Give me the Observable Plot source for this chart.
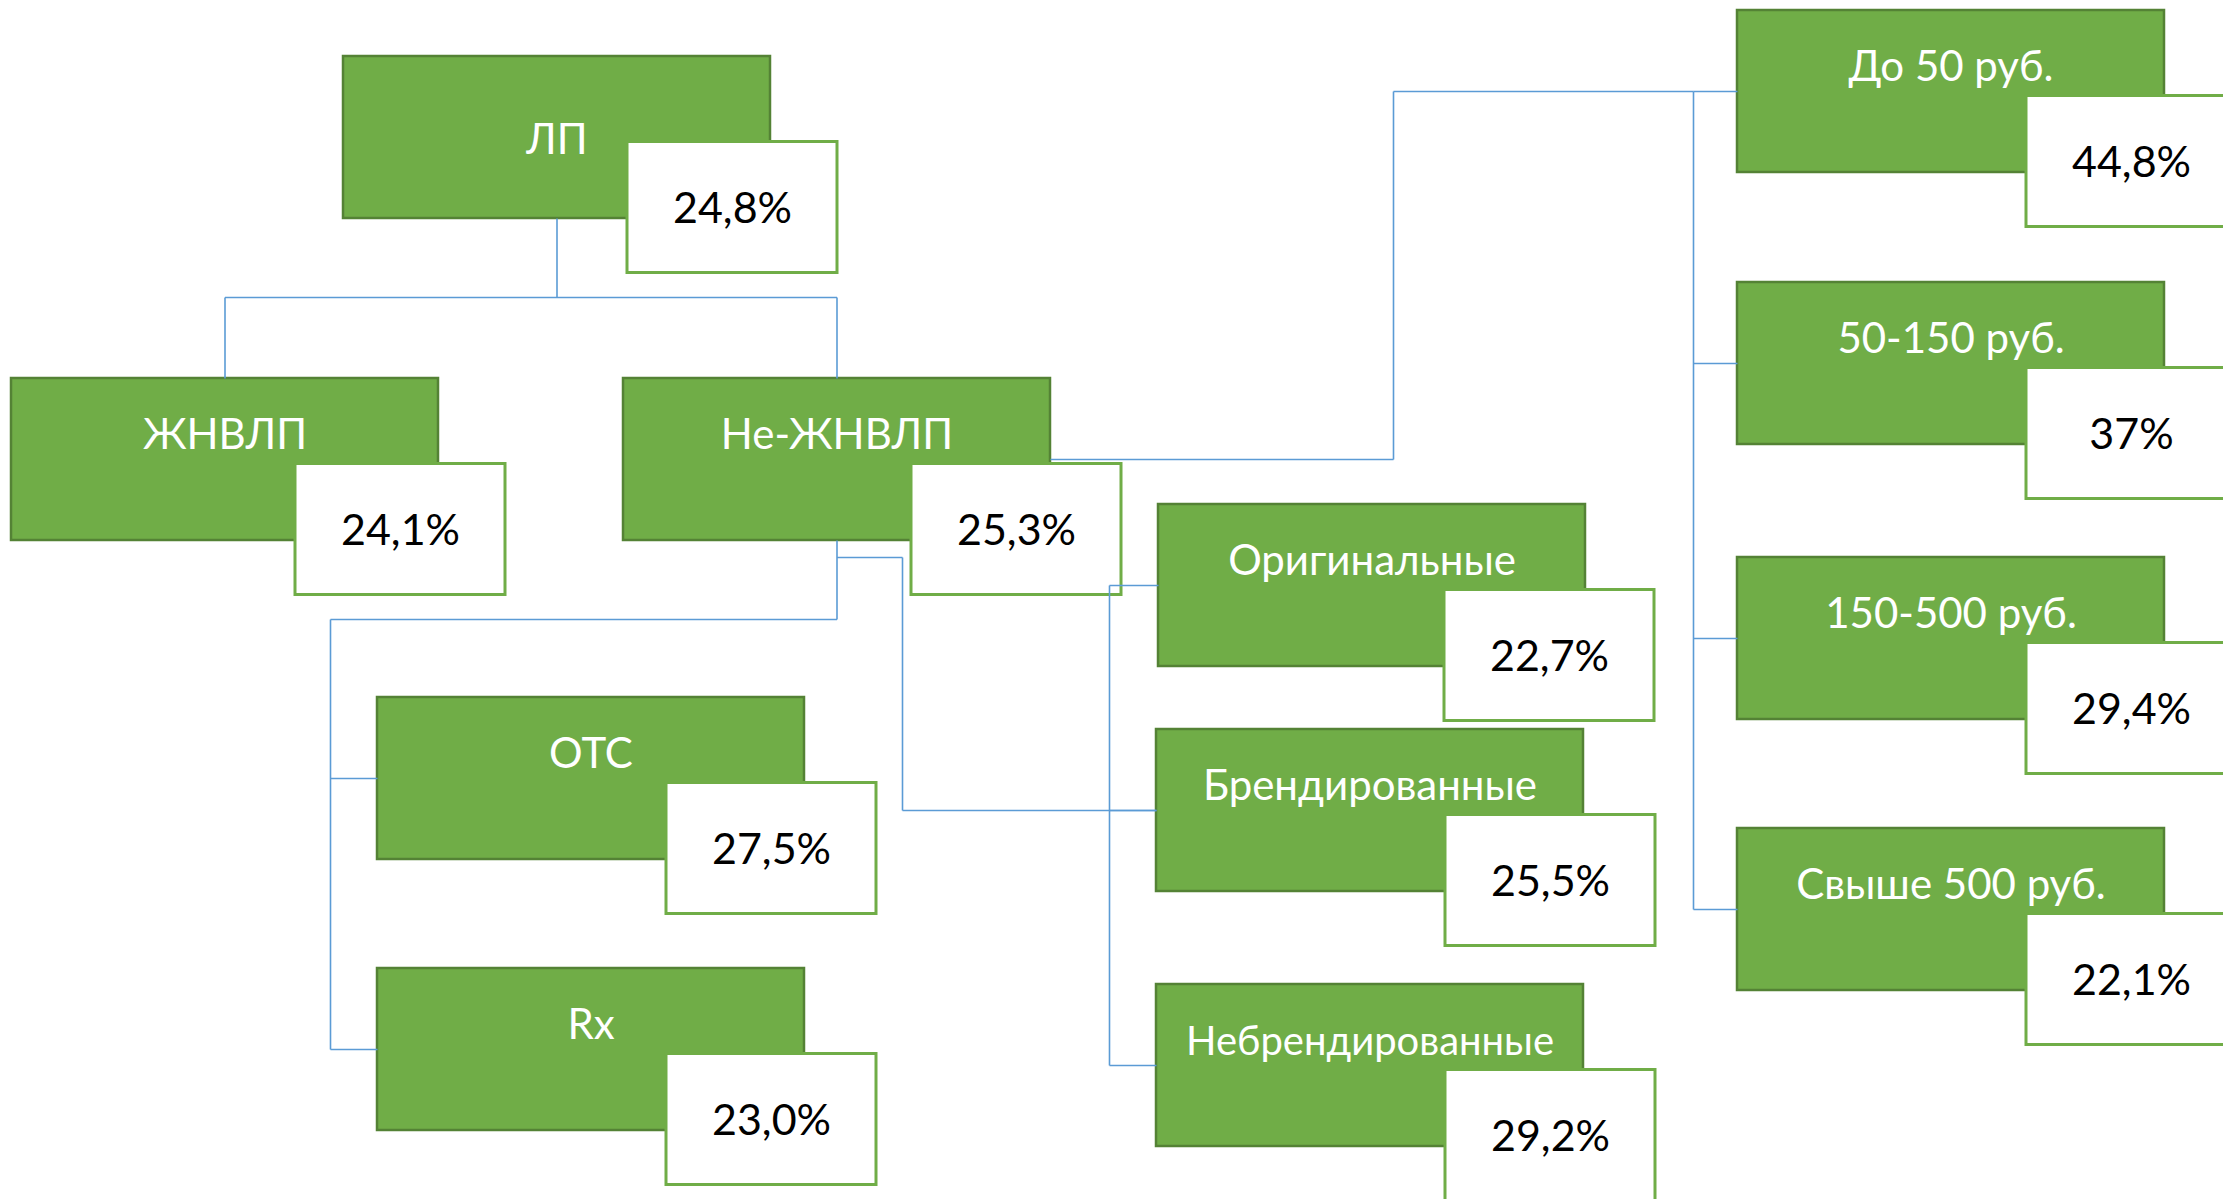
<!DOCTYPE html>
<html>
<head>
<meta charset="utf-8">
<script src="https://cdn.jsdelivr.net/npm/d3@7"></script>
<script src="https://cdn.jsdelivr.net/npm/@observablehq/plot@0.6"></script>
<style>
  html, body { margin: 0; padding: 0; background: #ffffff; overflow: hidden; }
  #chart svg { display: block; }
</style>
</head>
<body>
<div id="chart"></div>
<script>
// ---- data ----
const labels = ["ЛП", "ЖНВЛП", "Не-ЖНВЛП", "OTC", "Rx",
  "Оригинальные", "Брендированные", "Небрендированные",
  "До 50 руб.", "50-150 руб.", "150-500 руб.", "Свыше 500 руб."];
const values = ["24,8%", "24,1%", "25,3%", "27,5%", "23,0%",
  "22,7%", "25,5%", "29,2%",
  "44,8%", "37%", "29,4%", "22,1%"];
const parents = [null, "ЛП", "ЛП", "Не-ЖНВЛП", "Не-ЖНВЛП",
  "Не-ЖНВЛП", "Не-ЖНВЛП", "Не-ЖНВЛП",
  "Не-ЖНВЛП", "Не-ЖНВЛП", "Не-ЖНВЛП", "Не-ЖНВЛП"];

// ---- layout (pixel positions of the diagram) ----
const boxLeft = [343, 11, 623, 377, 377, 1158, 1156, 1156, 1737, 1737, 1737, 1737];
const boxTop  = [56, 378, 378, 697, 968, 504, 729, 984, 10, 282, 557, 828];
const valueDx = [284, 284, 288, 289, 289, 286, 289, 289, 289, 289, 289, 289];
const labelBaseline = [97, 70, 70, 70, 70, 70, 70, 70, 70, 70, 70, 70];
const labelSize = [42, 42, 42, 42, 42, 42, 42, 40, 42, 42, 42, 42];
const BOX_W = 427, BOX_H = 162;
const VAL_DY = 85.5, VAL_W = 210, VAL_H = 131;

const nodes = labels.map((label, i) => ({
  label, value: values[i], parent: parents[i],
  x1: boxLeft[i], x2: boxLeft[i] + BOX_W,
  y1: boxTop[i], y2: boxTop[i] + BOX_H,
  vx1: boxLeft[i] + valueDx[i], vx2: boxLeft[i] + valueDx[i] + VAL_W,
  vy1: boxTop[i] + VAL_DY, vy2: boxTop[i] + VAL_DY + VAL_H,
  fs: labelSize[i], lb: labelBaseline[i]
}));
const byName = Object.fromEntries(nodes.map(n => [n.label, n]));
const cx = n => (n.x1 + n.x2) / 2;
const cy = n => (n.y1 + n.y2) / 2;

// connector groups (routing parameters only; endpoints come from the boxes)
const groups = [
  {parent: "ЛП", children: ["ЖНВЛП", "Не-ЖНВЛП"], kind: "top", busY: 297},
  {parent: "Не-ЖНВЛП", children: ["OTC", "Rx"], kind: "below", busY: 619, busX: 330},
  {parent: "Не-ЖНВЛП", children: ["Оригинальные", "Брендированные", "Небрендированные"], kind: "branch", branchY: 557, elbowX: 902, busX: 1109},
  {parent: "Не-ЖНВЛП", children: ["До 50 руб.", "50-150 руб.", "150-500 руб.", "Свыше 500 руб."], kind: "side", elbowX: 1393, busX: 1693}
];

const segs = [];
const seg = (x1, y1, x2, y2) => segs.push({x1, y1, x2, y2});
for (const g of groups) {
  const p = byName[g.parent];
  const ch = g.children.map(c => byName[c]);
  if (g.kind === "top") {
    seg(cx(p), p.y2, cx(p), g.busY);
    seg(d3.min(ch, cx), g.busY, d3.max(ch, cx), g.busY);
    for (const c of ch) seg(cx(c), g.busY, cx(c), c.y1);
  } else if (g.kind === "below") {
    seg(cx(p), p.y2, cx(p), g.busY);
    seg(g.busX, g.busY, cx(p), g.busY);
    seg(g.busX, g.busY, g.busX, cy(ch[ch.length - 1]));
    for (const c of ch) seg(g.busX, cy(c), c.x1, cy(c));
  } else if (g.kind === "branch") {
    const mid = ch[1];
    seg(cx(p), g.branchY, g.elbowX, g.branchY);
    seg(g.elbowX, g.branchY, g.elbowX, cy(mid));
    seg(g.elbowX, cy(mid), mid.x1, cy(mid));
    seg(g.busX, cy(ch[0]), g.busX, cy(ch[ch.length - 1]));
    for (const c of ch) seg(g.busX, cy(c), c.x1, cy(c));
  } else if (g.kind === "side") {
    seg(p.x2, cy(p), g.elbowX, cy(p));
    seg(g.elbowX, cy(p), g.elbowX, cy(ch[0]));
    seg(g.elbowX, cy(ch[0]), g.busX, cy(ch[0]));
    seg(g.busX, cy(ch[0]), g.busX, cy(ch[ch.length - 1]));
    for (const c of ch) seg(g.busX, cy(c), c.x1, cy(c));
  }
}

const W = 2223, H = 1199;
const chart = Plot.plot({
  width: W, height: H,
  margin: 0,
  x: {domain: [0, W], range: [0, W], axis: null},
  y: {domain: [0, H], range: [0, H], axis: null},
  style: {background: "#ffffff", fontFamily: "Lato, 'Open Sans', sans-serif"},
  marks: [
    Plot.rect(nodes, {x1: "x1", x2: "x2", y1: "y1", y2: "y2",
      fill: "#70AD47", stroke: "#548235", strokeWidth: 2.5}),
    Plot.rect(nodes, {x1: "vx1", x2: "vx2", y1: "vy1", y2: "vy2",
      fill: "#ffffff", stroke: "#70AD47", strokeWidth: 3}),
    Plot.link(segs, {x1: "x1", y1: "y1", x2: "x2", y2: "y2",
      stroke: "#5B9BD5", strokeWidth: 1.6}),
    Plot.text(nodes, {x: d => cx(d), y: d => d.y1 + d.lb - 0.32 * d.fs, text: "label",
      fill: "#ffffff", fontSize: d => d.fs, textAnchor: "middle", lineAnchor: "middle"}),
    Plot.text(nodes, {x: d => (d.vx1 + d.vx2) / 2, y: d => d.vy1 + 81 - 0.32 * 43, text: "value",
      fill: "#000000", fontSize: 43, textAnchor: "middle", lineAnchor: "middle"})
  ]
});
document.getElementById("chart").appendChild(chart);
</script>
</body>
</html>
